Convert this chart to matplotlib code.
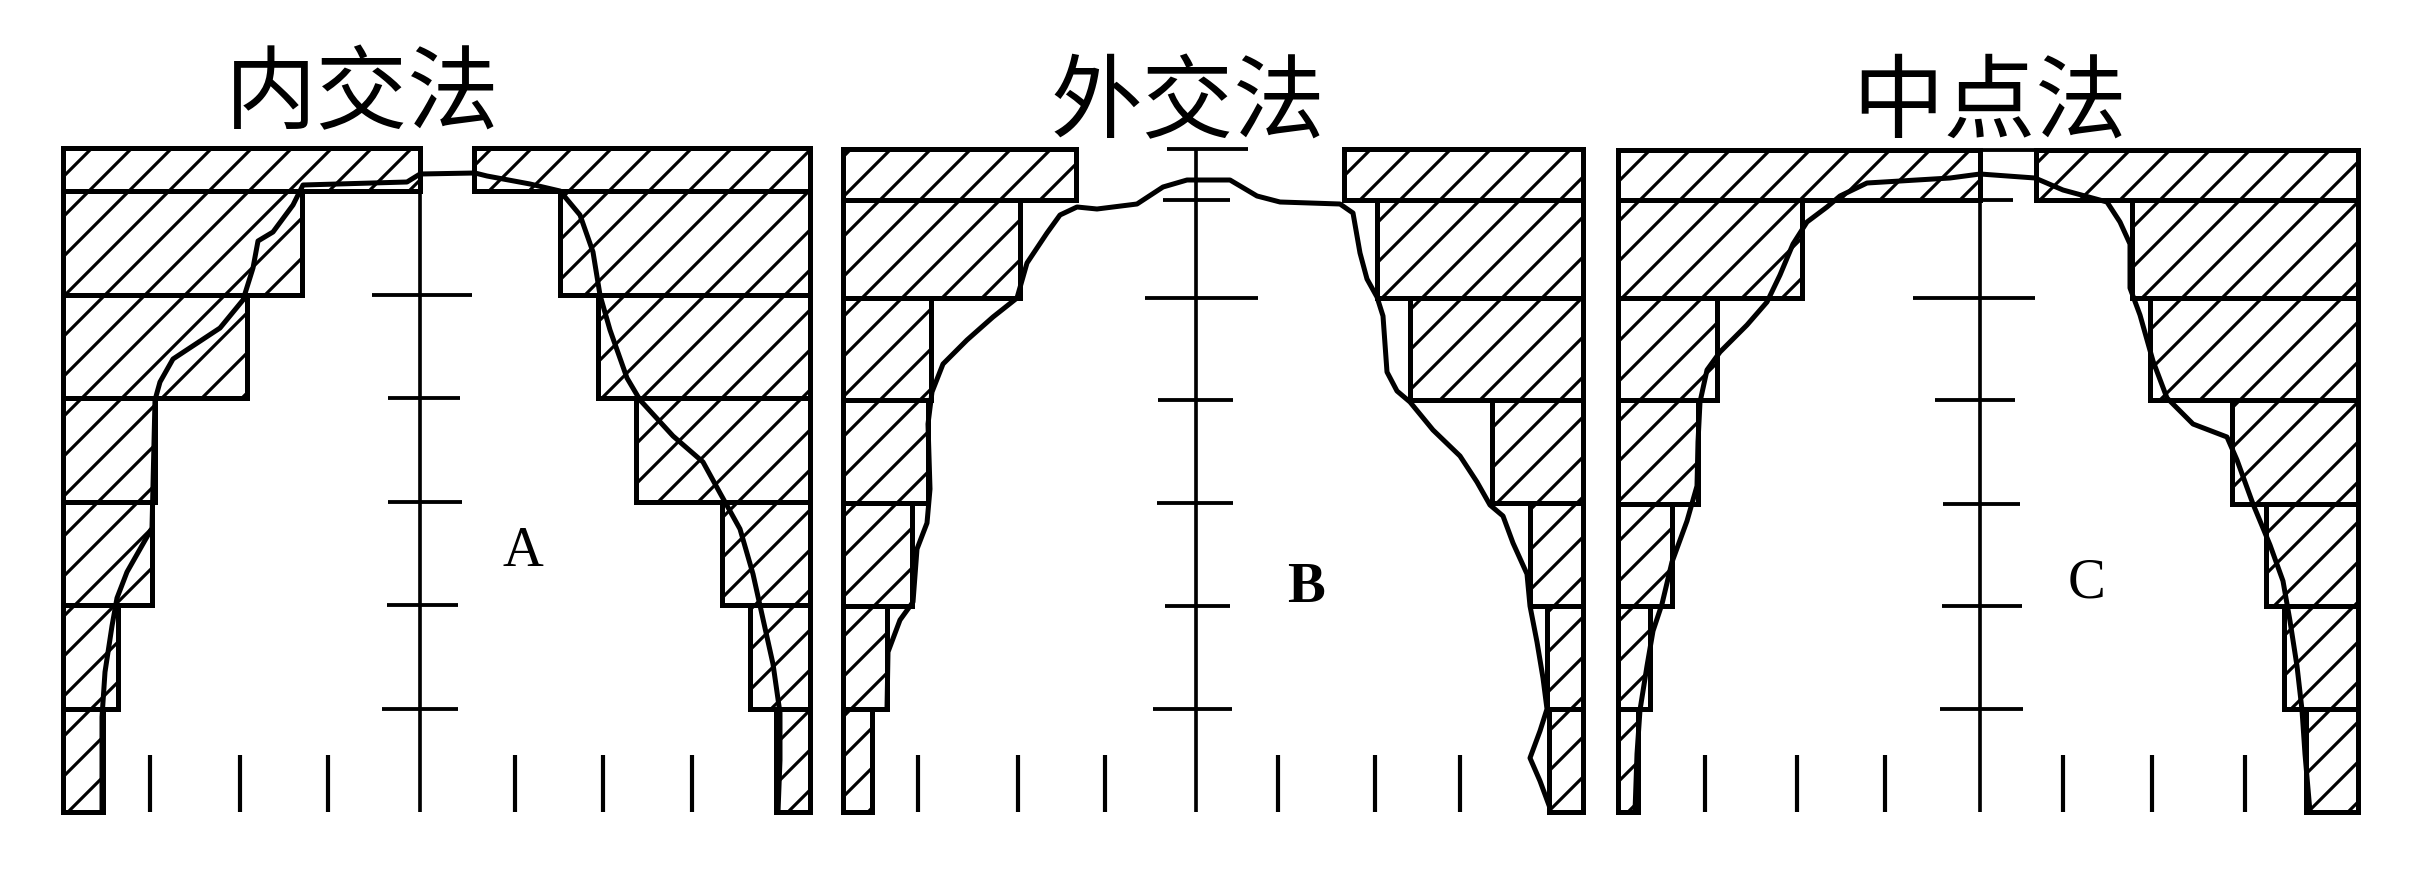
import numpy as np
import matplotlib.pyplot as plt

plt.rcParams['font.family'] = ['Noto Sans CJK SC', 'DejaVu Sans']
plt.rcParams['hatch.linewidth'] = 1.9
plt.rcParams['hatch.color'] = 'black'

# --- values (x: offset from centre line, y: depth from top) ---
titles = ['内交法', '外交法', '中点法']
letters = ['A', 'B', 'C']

band_edges_a = [148, 191, 295, 398, 502, 605, 709, 812]
band_edges_b = [149, 200, 298, 400, 503, 606, 709, 812]
band_edges_c = [150, 200, 298, 400, 504, 606, 709, 812]

frame_a = (-357, 390)
frame_b = (-353, 387)
frame_c = (-362, 378)

left_len_a = [357, 239, 184, 92, 89, 55, 40]
right_len_a = [336, 250, 212, 174, 88, 60, 34]
left_len_b = [233, 177, 88, 85, 69, 44, 29]
right_len_b = [239, 206, 173, 91, 53, 36, 34]
left_len_c = [362, 184, 99, 80, 54, 32, 20]
right_len_c = [322, 226, 208, 126, 92, 74, 52]

curve_a_x = [-318, -318, -315, -308, -303, -293, -268, -265, -260, -247, -200, -177,
             -167, -162, -147, -127, -117, -13, 0, 55, 67, 110, 140, 160, 173, 180,
             190, 207, 220, 253, 283, 300, 320, 333, 343, 353, 360, 360, 358]
curve_a_y = [812, 717, 672, 626, 598, 572, 528, 400, 382, 359, 328, 300,
             268, 241, 232, 205, 185, 182, 174, 173, 176, 184, 191, 215, 252, 295,
             330, 378, 400, 436, 462, 493, 529, 574, 619, 664, 713, 760, 812]

curve_b_x = [-309, -308, -296, -283, -279, -269, -266, -268, -264, -253, -229, -203,
             -179, -169, -149, -136, -119, -99, -59, -33, -9, 34, 61, 84, 144, 157,
             164, 171, 181, 187, 191, 201, 214, 237, 264, 281, 294, 307, 317, 331,
             334, 341, 347, 351, 344, 334, 344, 354]
curve_b_y = [709, 652, 620, 602, 549, 523, 489, 424, 392, 364, 340, 317,
             298, 263, 233, 215, 207, 209, 204, 187, 180, 180, 196, 202, 204, 213,
             253, 279, 297, 316, 372, 391, 402, 430, 456, 482, 505, 516, 543, 574,
             606, 642, 678, 709, 731, 758, 781, 808]

curve_c_x = [-345, -343, -340, -333, -327, -318, -308, -293, -283, -282, -280, -273,
             -260, -233, -213, -200, -187, -173, -153, -140, -113, -30, 0, 55, 83,
             127, 140, 150, 150, 160, 173, 187, 213, 247, 257, 273, 290, 303, 310,
             317, 322, 325, 330]
curve_c_y = [812, 754, 710, 666, 631, 604, 562, 521, 486, 442, 402, 370,
             352, 325, 302, 275, 244, 222, 207, 196, 183, 178, 174, 178, 190,
             202, 222, 244, 288, 315, 361, 398, 424, 437, 460, 504, 545, 581, 621,
             666, 710, 754, 812]

# centre-line ticks: depth, left reach, right reach
tick_y_a = [295, 398, 502, 605, 709]
tick_l_a = [-48, -32, -32, -33, -38]
tick_r_a = [52, 40, 42, 38, 38]
tick_y_b = [149, 200, 298, 400, 503, 606, 709]
tick_l_b = [-29, -33, -51, -38, -39, -31, -43]
tick_r_b = [52, 34, 62, 37, 37, 34, 36]
tick_y_c = [150, 200, 298, 400, 504, 606, 709]
tick_l_c = [0, 0, -67, -45, -37, -38, -40]
tick_r_c = [56, 33, 55, 35, 40, 42, 43]

# short marks along the bottom
foot_x_a = [-270, -180, -92, 95, 183, 272]
foot_x_b = [-278, -178, -91, 82, 179, 264]
foot_x_c = [-275, -183, -95, 83, 172, 265]

panels = [
    dict(edges=band_edges_a, frame=frame_a, ll=left_len_a, rl=right_len_a,
         cx=curve_a_x, cy=curve_a_y, ty=tick_y_a, tl=tick_l_a, tr=tick_r_a, fx=foot_x_a),
    dict(edges=band_edges_b, frame=frame_b, ll=left_len_b, rl=right_len_b,
         cx=curve_b_x, cy=curve_b_y, ty=tick_y_b, tl=tick_l_b, tr=tick_r_b, fx=foot_x_b),
    dict(edges=band_edges_c, frame=frame_c, ll=left_len_c, rl=right_len_c,
         cx=curve_c_x, cy=curve_c_y, ty=tick_y_c, tl=tick_l_c, tr=tick_r_c, fx=foot_x_c),
]

# layout (pixels of the 2424 x 873 canvas)
W, H = 2424, 873
centres = [420, 1196, 1980]
half = 400
title_pos = [(-58, 96), (-8, 105), (10, 105)]
letter_pos = [(103, 552), (110, 588), (107, 583)]
letter_weight = ['normal', 'bold', 'normal']

fig = plt.figure(figsize=(W / 120, H / 120), dpi=120)
fig.patch.set_facecolor('white')

for i, p in enumerate(panels):
    ax = fig.add_axes([(centres[i] - half) / W, 0, 2 * half / W, 1])
    ax.set_xlim(-half, half)
    ax.set_ylim(H, 0)
    ax.axis('off')
    ax.patch.set_alpha(0)

    edges = np.array(p['edges'])
    heights = np.diff(edges)
    lx, rx = p['frame']
    ll = np.array(p['ll'])
    rl = np.array(p['rl'])

    ax.barh(edges[:-1], ll, left=lx, height=heights, align='edge',
            facecolor='white', edgecolor='black', hatch='/', linewidth=3.0, zorder=2)
    ax.barh(edges[:-1], rl, left=rx - rl, height=heights, align='edge',
            facecolor='white', edgecolor='black', hatch='/', linewidth=3.0, zorder=2)

    # centre line and its ticks
    ax.vlines(0, edges[0], edges[-1], color='black', linewidth=2.2, zorder=3)
    ax.hlines(p['ty'], p['tl'], p['tr'], color='black', linewidth=2.3, zorder=3)

    # bottom marks
    ax.vlines(p['fx'], 755, edges[-1], color='black', linewidth=2.5, zorder=3)

    # measured outline
    ax.plot(p['cx'], p['cy'], color='black', linewidth=3.0,
            solid_joinstyle='round', solid_capstyle='round', zorder=4)

    tx, ty = title_pos[i]
    ax.text(tx, ty, titles[i], fontsize=55, ha='center', va='center',
            family=['Noto Sans CJK SC', 'DejaVu Sans'], color='black', zorder=5)
    lx_, ly_ = letter_pos[i]
    ax.text(lx_, ly_, letters[i], fontsize=34, ha='center', va='center',
            family=['Liberation Serif', 'DejaVu Serif'], fontweight=letter_weight[i],
            color='black', zorder=5)

fig.savefig('out.png', dpi=120, facecolor='white')
